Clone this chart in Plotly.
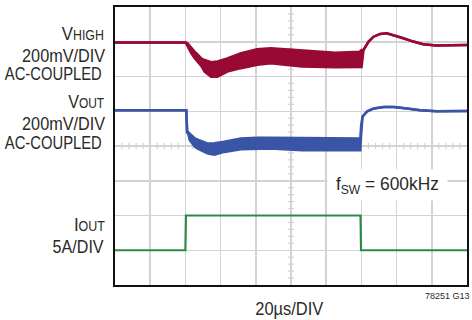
import plotly.graph_objects as go

# ---------------- data ----------------
# time in microseconds (20 us/DIV, 10 DIV)
# V_HIGH ripple envelope, mV (200 mV/DIV, AC-coupled)
vhigh_t = [0, 40.0, 41.2, 43.3, 45.2, 46.9, 49.0, 50.9, 54.6, 58.2, 63.8, 71.6, 80.8,
           88.5, 106.2, 125.3, 139.0, 140.1, 141.2, 144.1, 146.9, 150.7, 154.4, 158.2,
           163.8, 169.5, 175.1, 182.5, 192.1, 200.0]
vhigh_hi = [0, 0, -5, -32, -53, -69, -91, -101, -114, -109, -92, -62, -39,
            -33, -47, -59, -53, -43, -43, 5, 33, 49, 53, 43,
            24, 5, -10, -18, -18, -14]
vhigh_lo = [0, 0, -20, -62, -89, -110, -135, -168, -197, -197, -168, -148, -129,
            -120, -139, -143, -143, -141, -43, 5, 33, 49, 53, 43,
            24, 5, -10, -18, -18, -14]

# V_OUT ripple envelope, mV (200 mV/DIV, AC-coupled)
vout_t = [0, 40.5, 41.0, 41.7, 42.5, 45.4, 47.0, 52.8, 56.5, 62.1, 71.5, 80.9, 88.4,
          106.4, 125.3, 139.0, 139.4, 139.8, 140.6, 143.3, 147.1, 152.7, 158.4, 165.9,
          173.4, 182.8, 200.0]
vout_hi = [0, 0, -127, -127, -135, -162, -170, -192, -190, -182, -163, -158, -159,
           -159, -163, -163, -163, -96, -38, -6, 10, 19, 19, 10,
           0, -6, -4]
vout_lo = [0, 0, -127, -138, -173, -210, -221, -250, -256, -240, -225, -221, -221,
           -230, -230, -230, -230, -150, -38, -6, 10, 19, 19, 10,
           0, -6, -4]

# I_OUT load step, A (5 A/DIV)
iout_t = [0, 40.0, 40.3, 139.5, 139.8, 200.0]
iout_a = [0, 0, 5, 5, 0, 0]

# ---------------- screen placement ----------------
X_DIV = 20.0          # us per division
VH_OFF, VH_SCALE = 6.98, 200.0   # division of trace zero, mV/DIV
VO_OFF, VO_SCALE = 5.03, 200.0
IO_OFF, IO_SCALE = 1.0, 5.0

RED = "#980a33"
BLUE = "#3a54a6"
GREEN = "#2e8a47"
GRID = "#d3d3d3"
TXT = "#2a2a2a"
FONT = "Liberation Sans, Arial, sans-serif"


def scr(vals, off, scale):
    return [off + v / scale for v in vals]


fig = go.Figure()


def band(t, lo, hi, off, scale, color):
    fig.add_trace(go.Scatter(x=t, y=scr(lo, off, scale), mode="lines",
                             line=dict(color=color, width=2.5), hoverinfo="skip",
                             showlegend=False))
    fig.add_trace(go.Scatter(x=t, y=scr(hi, off, scale), mode="lines",
                             line=dict(color=color, width=2.5), fill="tonexty",
                             fillcolor=color, hoverinfo="skip", showlegend=False))


band(vhigh_t, vhigh_lo, vhigh_hi, VH_OFF, VH_SCALE, RED)
band(vout_t, vout_lo, vout_hi, VO_OFF, VO_SCALE, BLUE)
fig.add_trace(go.Scatter(x=iout_t, y=scr(iout_a, IO_OFF, IO_SCALE), mode="lines",
                         line=dict(color=GREEN, width=2.2), hoverinfo="skip",
                         showlegend=False))

# minor ticks on the centre graticule lines
shapes = []
for k in range(1, 50):
    if k % 5 == 0:
        continue
    x = k * X_DIV / 5
    shapes.append(dict(type="line", xref="x", yref="y", x0=x, x1=x, y0=4 - 0.09, y1=4 + 0.09,
                       line=dict(color=GRID, width=1.2), layer="below"))
for k in range(1, 40):
    if k % 5 == 0:
        continue
    y = k / 5
    shapes.append(dict(type="line", xref="x", yref="y", x0=100 - 1.7, x1=100 + 1.7, y0=y, y1=y,
                       line=dict(color=GRID, width=1.2), layer="below"))

L, R, T, B = 115, 3, 7, 35
W, H = 472, 320
PW, PH = W - L - R, H - T - B


def px(x):
    return (x - L) / PW


def py(y):
    return (H - B - y) / PH


SUB = "<span style='font-size:14px'>{}</span>"
# (text, centre x px, centre y px, target width px)
labels = [
    ("V" + SUB.format("HIGH"), 83.0, 34, 42),
    ("200mV/DIV", 62.8, 55.5, 83),
    ("AC-COUPLED", 53.3, 74, 97),
    ("V" + SUB.format("OUT"), 86.2, 101.5, 36),
    ("200mV/DIV", 62.8, 123.5, 83),
    ("AC-COUPLED", 53.3, 142, 97),
    ("I" + SUB.format("OUT"), 89.5, 224, 31),
    ("5A/DIV", 78.7, 246.5, 51),
    ("f<sub>SW</sub> = 600kHz", 389.5, 185, 103),
    ("20µs/DIV", 290.8, 308.5, 68),
]
ann = []
widths = []
for text, xc, yc, wd in labels:
    a = dict(text=text, xref="paper", yref="paper", x=px(xc), y=py(yc),
             xanchor="center", yanchor="middle", showarrow=False,
             font=dict(family=FONT, size=19, color=TXT))
    if text.startswith("f<sub>"):
        a.update(bgcolor="white", borderpad=3)
    ann.append(a)
    widths.append(wd)
ann.append(dict(text="78251 G13", xref="paper", yref="paper", x=px(474), y=py(296),
                xanchor="right", yanchor="middle", showarrow=False,
                font=dict(family=FONT, size=9, color=TXT)))
widths.append(0)

fig.update_layout(
    width=W, height=H, margin=dict(l=L, r=R, t=T, b=B),
    paper_bgcolor="white", plot_bgcolor="white",
    shapes=shapes, annotations=ann, showlegend=False,
    xaxis=dict(range=[0, 200], dtick=X_DIV, tick0=0, showgrid=True, gridcolor=GRID,
               gridwidth=1.5, zeroline=False, showticklabels=False, ticks="",
               showline=True, mirror=True, linecolor="#111", linewidth=2, fixedrange=True),
    yaxis=dict(range=[0, 8], dtick=1, tick0=0, showgrid=True, gridcolor=GRID,
               gridwidth=1.5, zeroline=False, showticklabels=False, ticks="",
               showline=True, mirror=True, linecolor="#111", linewidth=2, fixedrange=True),
)

post = """
document.body.style.margin = '0';
document.body.style.overflow = 'hidden';
var gd = document.getElementById('{plot_id}');
var W = %s;
var t = gd.querySelectorAll('text.annotation-text');
for (var i = 0; i < t.length && i < W.length; i++) {
  if (W[i] > 0) {
    t[i].setAttribute('textLength', W[i]);
    t[i].setAttribute('lengthAdjust', 'spacingAndGlyphs');
  }
}
""" % (str(widths))

fig.write_html("out.html", post_script=post, config={"staticPlot": True})
